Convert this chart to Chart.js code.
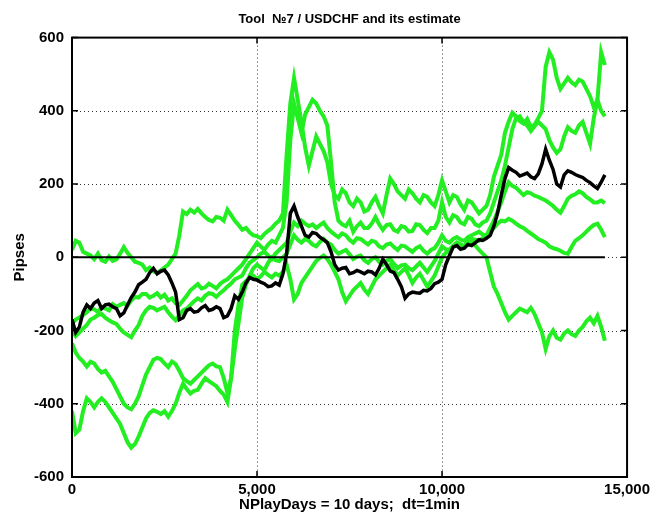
<!DOCTYPE html>
<html>
<head>
<meta charset="utf-8">
<script src="https://cdn.jsdelivr.net/npm/chart.js@4.4.1/dist/chart.umd.min.js"></script>
<style>
  body { margin: 0; background: #fff; }
  canvas { display: block; }
</style>
</head>
<body>
<canvas id="chart" width="654" height="517"></canvas>
<script>
// time in minutes, one reading every 100 min
const minutes = [0,100,200,300,400,500,600,700,800,900,1000,1100,1200,1300,1400,1500,1600,1700,1800,1900,
  2000,2100,2200,2300,2400,2500,2600,2700,2800,2900,3000,3100,3200,3300,3400,3500,3600,3700,3800,3900,
  4000,4100,4200,4300,4400,4500,4600,4700,4800,4900,5000,5100,5200,5300,5400,5500,5600,5700,5800,5900,
  6000,6100,6200,6300,6400,6500,6600,6700,6800,6900,7000,7100,7200,7300,7400,7500,7600,7700,7800,7900,
  8000,8100,8200,8300,8400,8500,8600,8700,8800,8900,9000,9100,9200,9300,9400,9500,9600,9700,9800,9900,
  10000,10100,10200,10300,10400,10500,10600,10700,10800,10900,11000,11100,11200,11300,11400,11500,11600,11700,11800,11900,
  12000,12100,12200,12300,12400,12500,12600,12700,12800,12900,13000,13100,13200,13300,13400,13500,13600,13700,13800,13900,
  14000,14100,14200,14300,14400];

// actual USDCHF, pipses
const usdchf = [-170,-205,-190,-150,-130,-140,-125,-118,-140,-130,-128,-135,-140,-160,-152,-130,-110,-95,-75,-68,
  -60,-42,-30,-45,-38,-35,-48,-70,-95,-170,-165,-145,-140,-150,-148,-138,-132,-145,-142,-135,
  -140,-165,-160,-140,-105,-115,-95,-70,-55,-60,-62,-68,-72,-80,-78,-70,-76,-45,10,120,
  140,110,85,60,55,68,65,55,48,40,15,-20,-35,-30,-28,-45,-42,-36,-40,-45,
  -38,-40,-48,-30,-5,-20,-38,-42,-60,-80,-112,-100,-95,-97,-98,-90,-92,-85,-72,-68,
  -60,-20,5,28,32,22,25,35,32,40,48,46,52,60,85,120,170,215,245,238,
  232,222,226,230,220,215,228,255,295,265,240,200,192,225,236,232,226,222,218,210,
  204,195,188,205,225];

// estimates
const estimate1 = [20,45,40,15,10,5,-5,10,-8,-12,2,-10,-6,10,28,12,0,-12,-15,-20,
  -35,-28,-38,-42,-36,-28,-20,-5,10,60,125,118,130,122,132,120,110,102,98,110,
  108,100,130,115,100,88,75,80,68,60,58,52,64,72,80,92,100,120,280,420,
  490,430,370,300,250,290,330,310,290,260,200,170,160,185,175,150,140,160,150,125,
  130,150,165,140,120,170,215,200,180,170,160,185,175,160,150,170,165,150,140,170,
  210,180,150,170,165,145,130,155,150,135,120,130,140,170,220,250,280,340,370,395,
  385,372,365,378,355,362,380,400,520,560,540,490,460,475,490,478,470,485,480,460,
  440,410,430,560,525];
const estimate2 = [-180,-170,-164,-158,-150,-140,-142,-150,-136,-140,-145,-128,-135,-130,-125,-132,-118,-108,-110,-100,
  -100,-110,-105,-98,-110,-102,-118,-112,-125,-130,-118,-105,-90,-82,-73,-85,-82,-72,-78,-85,
  -73,-65,-60,-50,-40,-30,-20,-5,10,25,40,30,20,35,45,40,60,80,150,320,
  420,380,340,390,410,430,420,400,385,360,260,150,100,90,85,100,70,85,95,80,
  80,92,110,90,75,88,90,75,70,85,82,70,72,90,88,75,66,80,80,100,
  150,110,95,115,110,95,90,110,105,90,85,95,100,120,150,180,210,250,300,350,
  380,385,370,360,345,358,370,360,350,320,300,285,295,330,355,345,340,360,370,340,
  310,380,430,400,385];
const estimate3 = [-200,-215,-205,-195,-185,-170,-165,-158,-155,-165,-172,-178,-182,-195,-205,-212,-218,-200,-185,-160,
  -145,-135,-138,-145,-140,-135,-150,-162,-172,-158,-145,-140,-130,-120,-112,-118,-105,-98,-100,-108,
  -98,-90,-80,-72,-60,-55,-50,-30,-15,-8,0,10,15,5,-5,10,20,30,40,70,
  95,85,100,92,85,90,80,88,95,80,70,62,55,65,60,48,40,52,50,42,
  35,45,42,30,25,35,38,28,20,32,30,22,15,25,30,18,10,20,25,40,
  60,45,40,50,55,48,45,55,60,65,70,62,60,80,100,125,150,180,205,195,
  190,180,170,178,175,168,165,160,155,148,140,130,122,140,160,168,172,180,175,165,
  158,150,150,155,148];
const estimate4 = [-235,-260,-275,-285,-298,-285,-290,-305,-315,-310,-325,-340,-360,-380,-400,-410,-415,-400,-380,-350,
  -320,-300,-280,-275,-278,-290,-300,-285,-292,-310,-330,-338,-345,-335,-325,-315,-305,-295,-290,-298,
  -300,-330,-370,-330,-250,-180,-110,-75,-50,-30,-20,-28,-35,-15,0,-8,-10,0,10,35,
  60,48,40,50,45,35,30,42,50,40,35,20,10,15,20,8,-5,2,5,-8,
  -15,-5,0,-12,-20,-10,-5,-18,-30,-22,-20,-30,-35,-25,-15,-28,-40,-25,-10,10,
  30,22,20,30,40,35,30,42,50,48,45,52,60,70,80,92,100,98,105,100,
  92,85,80,72,65,58,50,45,40,30,25,22,18,12,10,28,45,52,60,70,
  80,88,92,75,55];
const estimate5 = [-420,-480,-470,-420,-385,-395,-410,-395,-385,-395,-410,-425,-440,-455,-480,-505,-520,-510,-490,-465,
  -440,-425,-418,-422,-428,-420,-435,-420,-400,-370,-345,-360,-372,-365,-362,-345,-330,-338,-345,-352,
  -365,-375,-395,-330,-200,-130,-75,-65,-55,-50,-60,-52,-40,-48,-55,-45,-50,-40,-20,-60,
  -115,-100,-70,-55,-40,-25,-10,-2,5,-5,-20,-40,-60,-95,-120,-105,-90,-80,-70,-88,
  -100,-80,-60,-50,-40,-30,-20,-35,-50,-40,-30,-48,-70,-55,-45,-62,-80,-65,-50,-25,
  0,12,20,32,40,35,30,40,45,32,20,10,0,-40,-80,-100,-125,-150,-170,-160,
  -150,-140,-145,-150,-138,-155,-180,-205,-250,-215,-200,-220,-225,-208,-200,-210,-215,-200,-190,-175,
  -165,-180,-160,-190,-228];

// zero line
const zeroX = [0, 14400];
const zeroY = [0, 0];

// axis ticks
const xTickValues = [0, 5000, 10000, 15000];
const yTickValues = [-600, -400, -200, 0, 200, 400, 600];

const FONT = "'Liberation Sans', Arial, sans-serif";
const GREEN = '#22ee22';

function points(xs, ys) {
  return xs.map((x, i) => ({ x: x, y: ys[i] }));
}

function lineSet(label, xs, ys, color, width) {
  return {
    label: label,
    data: points(xs, ys),
    borderColor: color,
    borderWidth: width,
    pointRadius: 0,
    tension: 0,
    fill: false
  };
}

// matlab style: dotted grid, black box, ticks inside
const matlabAxes = {
  id: 'matlabAxes',
  beforeDatasetsDraw(chart) {
    const { ctx, chartArea: a, scales: { x, y } } = chart;
    ctx.save();
    ctx.strokeStyle = '#333';
    ctx.lineWidth = 1;
    ctx.setLineDash([1, 3]);
    ctx.beginPath();
    xTickValues.slice(1, -1).forEach(v => {
      const px = Math.round(x.getPixelForValue(v)) + 0.5;
      ctx.moveTo(px, a.top);
      ctx.lineTo(px, a.bottom);
    });
    yTickValues.slice(1, -1).forEach(v => {
      const py = Math.round(y.getPixelForValue(v)) + 0.5;
      ctx.moveTo(a.left, py);
      ctx.lineTo(a.right, py);
    });
    ctx.stroke();
    ctx.restore();
  },
  afterDatasetsDraw(chart) {
    const { ctx, chartArea: a, scales: { x, y } } = chart;
    ctx.save();
    ctx.strokeStyle = '#000';
    ctx.lineWidth = 2;
    ctx.strokeRect(a.left, a.top, a.right - a.left, a.bottom - a.top);
    ctx.lineWidth = 1.5;
    ctx.beginPath();
    xTickValues.forEach(v => {
      const px = x.getPixelForValue(v);
      ctx.moveTo(px, a.bottom); ctx.lineTo(px, a.bottom - 6);
      ctx.moveTo(px, a.top); ctx.lineTo(px, a.top + 6);
    });
    yTickValues.forEach(v => {
      const py = y.getPixelForValue(v);
      ctx.moveTo(a.left, py); ctx.lineTo(a.left + 6, py);
      ctx.moveTo(a.right, py); ctx.lineTo(a.right - 6, py);
    });
    ctx.stroke();
    ctx.restore();
  }
};

const ctx = document.getElementById('chart').getContext('2d');
new Chart(ctx, {
  type: 'line',
  data: {
    datasets: [
      lineSet('USDCHF', minutes, usdchf, '#000', 3.5),
      lineSet('zero', zeroX, zeroY, '#000', 2),
      lineSet('estimate 1', minutes, estimate1, GREEN, 4),
      lineSet('estimate 2', minutes, estimate2, GREEN, 4),
      lineSet('estimate 3', minutes, estimate3, GREEN, 4),
      lineSet('estimate 4', minutes, estimate4, GREEN, 4),
      lineSet('estimate 5', minutes, estimate5, GREEN, 4)
    ]
  },
  options: {
    responsive: false,
    animation: false,
    devicePixelRatio: 1,
    layout: { padding: { left: 0, right: 25, top: 0, bottom: 0 } },
    plugins: {
      legend: { display: false },
      tooltip: { enabled: false },
      title: {
        display: true,
        fullSize: false,
        text: 'Tool  №7 / USDCHF and its estimate',
        color: '#000',
        font: { family: FONT, size: 13, weight: 'bold' },
        padding: { top: 12, bottom: 10 }
      }
    },
    scales: {
      x: {
        type: 'linear',
        min: 0,
        max: 15000,
        afterBuildTicks: s => { s.ticks = xTickValues.map(v => ({ value: v })); },
        afterFit: s => { s.height = 40; },
        ticks: {
          color: '#000',
          padding: 4,
          maxRotation: 0,
          font: { family: FONT, size: 15, weight: 'bold' },
          callback: v => v.toLocaleString('en-US')
        },
        grid: { display: false, drawTicks: false },
        border: { display: false },
        title: {
          display: true,
          text: 'NPlayDays = 10 days;  dt=1min',
          color: '#000',
          font: { family: FONT, size: 15, weight: 'bold' },
          padding: { top: 0, bottom: 3 }
        }
      },
      y: {
        type: 'linear',
        min: -600,
        max: 600,
        afterBuildTicks: s => { s.ticks = yTickValues.map(v => ({ value: v })); },
        afterFit: s => { s.width = 72; },
        ticks: {
          color: '#000',
          padding: 8,
          font: { family: FONT, size: 15, weight: 'bold' }
        },
        grid: { display: false, drawTicks: false },
        border: { display: false },
        title: {
          display: true,
          text: 'Pipses',
          color: '#000',
          font: { family: FONT, size: 15, weight: 'bold' },
          padding: { top: 11, bottom: 0 }
        }
      }
    }
  },
  plugins: [matlabAxes]
});
</script>
</body>
</html>
